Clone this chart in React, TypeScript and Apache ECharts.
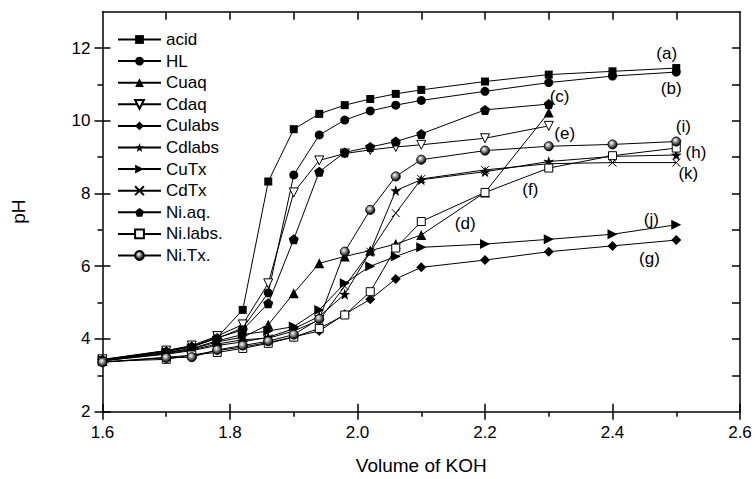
import React, { useEffect, useRef } from "react";
import * as echarts from "echarts";

const xs = [1.6, 1.7, 1.74, 1.78, 1.82, 1.86, 1.9, 1.94, 1.98, 2.02, 2.06, 2.1, 2.2, 2.3, 2.4, 2.5];

const acid = [3.42, 3.68, 3.8, 4.05, 4.8, 8.33, 9.77, 10.19, 10.43, 10.6, 10.74, 10.85, 11.08, 11.27, 11.36, 11.45];
const HL = [3.42, 3.66, 3.78, 4.02, 4.3, 5.27, 8.51, 9.61, 10.02, 10.27, 10.43, 10.56, 10.81, 11.05, 11.23, 11.34];
const Cuaq = [3.4, 3.62, 3.72, 3.92, 4.05, 4.39, 5.26, 6.08, 6.27, 6.43, 6.61, 6.86, 8.03, 10.23];
const Cdaq = [3.44, 3.68, 3.82, 4.08, 4.4, 5.53, 8.03, 8.91, 9.1, 9.2, 9.28, 9.34, 9.52, 9.86];
const Culabs = [3.36, 3.5, 3.55, 3.68, 3.78, 3.9, 4.06, 4.22, 4.68, 5.09, 5.65, 5.97, 6.17, 6.4, 6.56, 6.72];
const Cdlabs = [3.4, 3.58, 3.68, 3.82, 3.92, 4.05, 4.28, 4.62, 5.23, 6.4, 8.08, 8.38, 8.6, 8.88, 9.02, 9.06];
const CuTx = [3.42, 3.63, 3.74, 3.95, 4.12, 4.22, 4.34, 4.8, 5.53, 6.0, 6.27, 6.52, 6.61, 6.74, 6.88, 7.14];
const CdTx = [3.4, 3.6, 3.7, 3.86, 3.98, 4.02, 4.22, 4.52, 5.45, 6.4, 7.46, 8.4, 8.65, 8.82, 8.85, 8.85];
const NiAq = [3.43, 3.66, 3.79, 4.03, 4.25, 4.98, 6.74, 8.6, 9.13, 9.28, 9.43, 9.64, 10.3, 10.46];
const NiLabs = [3.38, 3.44, 3.56, 3.63, 3.74, 3.88, 4.05, 4.29, 4.66, 5.3, 6.5, 7.23, 8.03, 8.7, 9.04, 9.25];
const NiTx = [3.36, 3.48, 3.5, 3.7, 3.82, 3.94, 4.12, 4.55, 6.4, 7.55, 8.47, 8.93, 9.18, 9.3, 9.35, 9.43];

const annNames = ["(a)", "(b)", "(c)", "(d)", "(e)", "(f)", "(g)", "(h)", "(i)", "(j)", "(k)"];
const annX = [2.485, 2.492, 2.317, 2.169, 2.325, 2.271, 2.458, 2.531, 2.511, 2.461, 2.519];
const annY = [11.86, 10.9, 10.67, 7.17, 9.66, 8.1, 6.22, 9.13, 9.84, 7.28, 8.54];

const xMajorTicks = [1.6, 1.8, 2.0, 2.2, 2.4, 2.6];
const xMinorTicks = [1.7, 1.9, 2.1, 2.3, 2.5];
const xTopTicks = [1.7, 1.8, 1.9, 2.0, 2.1, 2.2, 2.3, 2.4, 2.5];
const yMajorTicks = [2, 4, 6, 8, 10, 12];
const yMinorTicks = [3, 5, 7, 9, 11];
const yRightTicks = [3, 4, 5, 6, 7, 8, 9, 10, 11, 12];

const STAR = "path://M0,-10L2.35,-3.24L9.51,-3.09L3.8,1.24L5.88,8.09L0,4L-5.88,8.09L-3.8,1.24L-9.51,-3.09L-2.35,-3.24Z";
const PENT = "path://M0,-10L9.51,-3.09L5.88,8.09L-5.88,8.09L-9.51,-3.09Z";
const CROSS = "path://M0,0L10,10M10,0L0,10";

const FONT = "Liberation Sans, Arial, Helvetica, sans-serif";

const sphere = {
  type: "radial",
  x: 0.4,
  y: 0.35,
  r: 0.65,
  colorStops: [
    { offset: 0, color: "#ffffff" },
    { offset: 0.5, color: "#777777" },
    { offset: 1, color: "#000000" },
  ],
};

const defs: any[] = [
  { name: "acid", data: acid, symbol: "rect", size: 8, fill: "#000" },
  { name: "HL", data: HL, symbol: "circle", size: 9, fill: "#000" },
  { name: "Cuaq", data: Cuaq, symbol: "triangle", size: 10, fill: "#000" },
  { name: "Cdaq", data: Cdaq, symbol: "triangle", size: 9, fill: "#fff", rotate: 180 },
  { name: "Culabs", data: Culabs, symbol: "diamond", size: 10, fill: "#000" },
  { name: "Cdlabs", data: Cdlabs, symbol: STAR, size: 11, fill: "#000" },
  { name: "CuTx", data: CuTx, symbol: "triangle", size: 10, fill: "#000", rotate: -90 },
  { name: "CdTx", data: CdTx, symbol: CROSS, size: 8, fill: "rgba(0,0,0,0)" },
  { name: "Ni.aq.", data: NiAq, symbol: PENT, size: 10, fill: "#000" },
  { name: "Ni.labs.", data: NiLabs, symbol: "rect", size: 8, fill: "#fff" },
  { name: "Ni.Tx.", data: NiTx, symbol: "circle", size: 9, fill: sphere },
];

export default function App() {
  const ref = useRef<HTMLDivElement>(null);
  useEffect(() => {
    if (!ref.current) return;
    const chart = echarts.init(ref.current, undefined, { renderer: "svg" });
    const series: any[] = defs.map((d) => ({
      name: d.name,
      type: "line",
      xAxisIndex: 0,
      yAxisIndex: 0,
      data: d.data.map((v: number, i: number) => [xs[i], v]),
      symbol: d.symbol,
      symbolSize: d.size,
      symbolRotate: d.rotate || 0,
      showAllSymbol: true,
      lineStyle: { color: "#000", width: 1 },
      itemStyle: {
        color: d.fill,
        borderColor: "#000",
        borderWidth: d.fill === "#000" ? 0 : 1,
      },
      emphasis: { disabled: true },
      z: 3,
    }));
    series.push({
      name: "labels",
      type: "custom",
      xAxisIndex: 0,
      yAxisIndex: 0,
      data: annNames.map((n, i) => [annX[i], annY[i], i]),
      renderItem: (params: any, api: any) => {
        const p = api.coord([api.value(0), api.value(1)]);
        return {
          type: "text",
          x: p[0],
          y: p[1],
          style: {
            text: annNames[api.value(2)],
            fill: "#000",
            font: "17px " + FONT,
            align: "center",
            verticalAlign: "middle",
          },
        };
      },
      silent: true,
      z: 4,
    });

    const axisLine = { show: true, lineStyle: { color: "#000", width: 1.5 } };
    const baseX = { type: "value", min: 1.6, max: 2.6, splitLine: { show: false } };
    const baseY = { type: "value", min: 2, max: 13, splitLine: { show: false } };

    chart.setOption({
      animation: false,
      backgroundColor: "#fff",
      grid: { left: 102.5, top: 11.7, width: 637.5, height: 400, containLabel: false, outerBoundsMode: "none" },
      legend: {
        data: defs.map((d) => d.name),
        orient: "vertical",
        left: 117,
        top: 31,
        padding: 0,
        itemWidth: 43,
        itemHeight: 11,
        itemGap: 4.6,
        textStyle: { fontSize: 17, fontFamily: FONT, color: "#000" },
        selectedMode: false,
      },
      xAxis: [
        {
          ...baseX,
          position: "bottom",
          axisLine,
          axisTick: { show: true, inside: false, length: 8, customValues: xMajorTicks, lineStyle: { color: "#000", width: 1.5 } },
          axisLabel: {
            show: true,
            customValues: xMajorTicks,
            formatter: (v: number) => v.toFixed(1),
            fontSize: 17,
            fontFamily: FONT,
            color: "#000",
            margin: 12,
          },
          name: "Volume of KOH",
          nameLocation: "middle",
          nameGap: 44,
          nameTextStyle: { fontSize: 19, fontFamily: FONT, color: "#000" },
        },
        {
          ...baseX,
          position: "bottom",
          axisLine: { show: false },
          axisTick: { show: true, inside: true, length: 8, customValues: xMajorTicks, lineStyle: { color: "#000", width: 1.5 } },
          axisLabel: { show: false },
        },
        {
          ...baseX,
          position: "bottom",
          axisLine: { show: false },
          axisTick: { show: true, inside: false, length: 5, customValues: xMinorTicks, lineStyle: { color: "#000", width: 1.5 } },
          axisLabel: { show: false },
        },
        {
          ...baseX,
          position: "top",
          axisLine,
          axisTick: { show: true, inside: true, length: 8, customValues: xTopTicks, lineStyle: { color: "#000", width: 1.5 } },
          axisLabel: { show: false },
        },
      ],
      yAxis: [
        {
          ...baseY,
          position: "left",
          axisLine,
          axisTick: { show: true, inside: false, length: 8, customValues: yMajorTicks, lineStyle: { color: "#000", width: 1.5 } },
          axisLabel: {
            show: true,
            customValues: yMajorTicks,
            fontSize: 17,
            fontFamily: FONT,
            color: "#000",
            margin: 12,
          },
          name: "pH",
          nameLocation: "middle",
          nameGap: 75,
          nameTextStyle: { fontSize: 19, fontFamily: FONT, color: "#000" },
        },
        {
          ...baseY,
          position: "left",
          axisLine: { show: false },
          axisTick: { show: true, inside: true, length: 8, customValues: yMajorTicks, lineStyle: { color: "#000", width: 1.5 } },
          axisLabel: { show: false },
        },
        {
          ...baseY,
          position: "left",
          axisLine: { show: false },
          axisTick: { show: true, inside: false, length: 5, customValues: yMinorTicks, lineStyle: { color: "#000", width: 1.5 } },
          axisLabel: { show: false },
        },
        {
          ...baseY,
          position: "right",
          axisLine,
          axisTick: { show: true, inside: true, length: 8, customValues: yRightTicks, lineStyle: { color: "#000", width: 1.5 } },
          axisLabel: { show: false },
        },
      ],
      series,
    });
    return () => chart.dispose();
  }, []);
  return (
    <div
      ref={ref}
      style={{ position: "fixed", left: 0, top: 0, width: 755, height: 479, background: "#fff" }}
    />
  );
}
